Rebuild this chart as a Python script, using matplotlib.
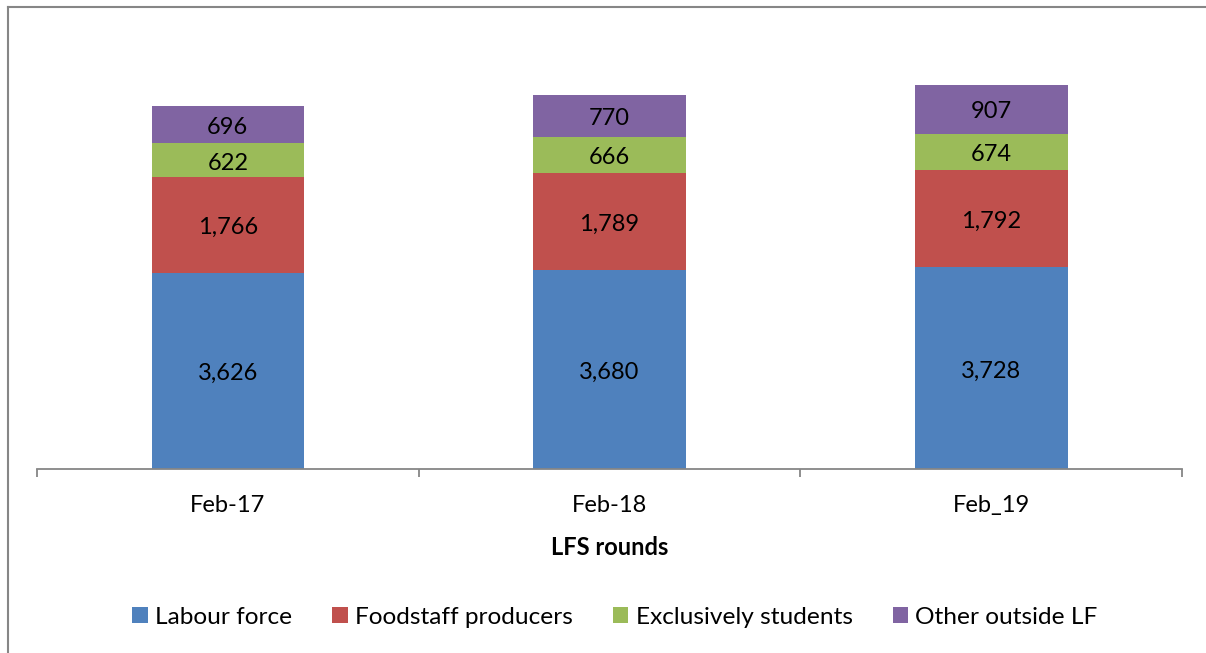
import numpy as np
import matplotlib.pyplot as plt
from matplotlib.lines import Line2D

rounds = ['Feb-17', 'Feb-18', 'Feb_19']
labour_force = [3626, 3680, 3728]
foodstaff = [1766, 1789, 1792]
students = [622, 666, 674]
other_lf = [696, 770, 907]

series_names = ['Labour force', 'Foodstaff producers', 'Exclusively students', 'Other outside LF']
colors = ['#4F81BD', '#C0504D', '#9BBB59', '#8064A2']

plt.rcParams['font.family'] = ['Lato', 'DejaVu Sans']
fs = 17

fig = plt.figure(figsize=(12.06, 6.53), dpi=100)
ax = fig.add_axes([37/1206, 1-469/653, (1182-37)/1206, (469-36)/653])

x = np.arange(len(rounds))
bottom = np.zeros(len(rounds))
for vals, name, c in zip([labour_force, foodstaff, students, other_lf], series_names, colors):
    vals = np.array(vals)
    ax.bar(x, vals, 0.4, bottom=bottom, color=c, label=name)
    for xi, b, v in zip(x, bottom, vals):
        ax.annotate(f'{v:,}', (xi, b + v/2), xytext=(0, -2), textcoords='offset points',
                    ha='center', va='center', fontsize=fs, color='black')
    bottom += vals

ax.set_xlim(-0.5, 2.5)
ax.set_ylim(0, 8000)
ax.set_yticks([])
for s in ['top', 'right', 'left']:
    ax.spines[s].set_visible(False)
ax.spines['bottom'].set_color('#868686')
ax.spines['bottom'].set_linewidth(1.3)
ax.set_xticks(x)
ax.set_xticklabels(rounds, fontsize=fs)
ax.tick_params(axis='x', which='major', length=0, pad=19)
ax.set_xticks([-0.5, 0.5, 1.5, 2.5], minor=True)
ax.tick_params(axis='x', which='minor', length=6, width=1.3, color='#868686', direction='out')
ax.set_xlabel('LFS rounds', fontsize=fs, fontweight='bold', labelpad=14)

fig.legend(loc='center', bbox_to_anchor=(0.51, 1-617/653), ncol=4, frameon=False,
           fontsize=17.6, handlelength=0.62, handleheight=0.62, handletextpad=0.3,
           columnspacing=1.65)

# outer chart frame
fig.add_artist(Line2D([8/1206, 1], [1-7/653, 1-7/653], color='#868686', lw=1.5, transform=fig.transFigure))
fig.add_artist(Line2D([8/1206, 8/1206], [0, 1-7/653], color='#868686', lw=1.5, transform=fig.transFigure))

fig.savefig('out.png', dpi=100)
